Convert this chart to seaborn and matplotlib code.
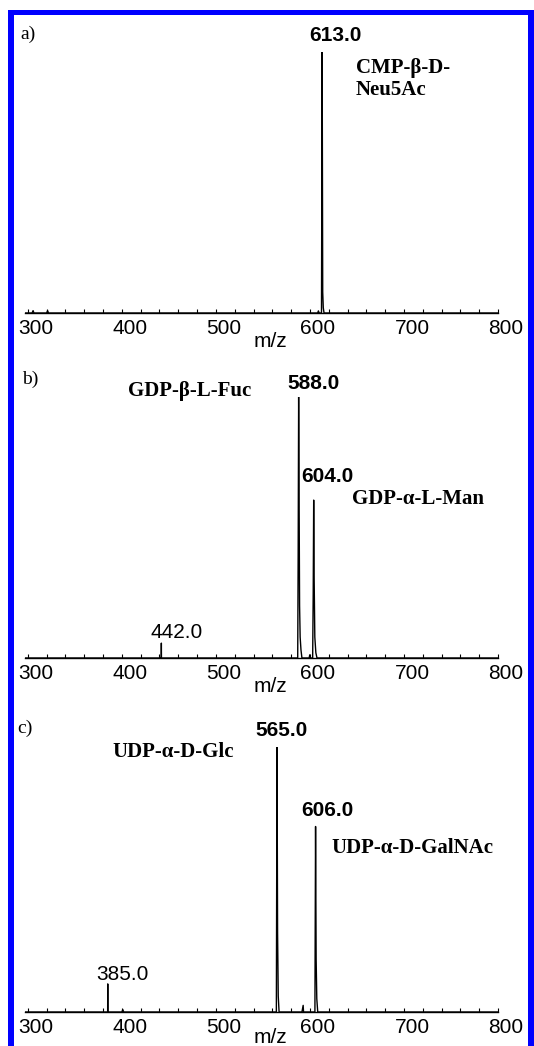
import matplotlib
matplotlib.use("Agg")
import matplotlib.pyplot as plt
import matplotlib.transforms as mtransforms
from matplotlib.ticker import MultipleLocator, FixedLocator
from matplotlib.patches import Rectangle
import seaborn as sns
import pandas as pd

# ---------------- data ----------------
# panel a: CMP-beta-D-Neu5Ac
mz_a = [297, 304.5, 305.6, 306.5, 320.0, 321.0, 322.0, 608.2, 609.0, 609.8,
        612.3, 613.0, 613.6, 614.2, 615.0, 800]
int_a = [0, 0, 0.9, 0, 0, 0.9, 0, 0, 0.8, 0,
         0, 100, 8, 2, 0, 0]

# panel b: GDP-beta-L-Fuc / GDP-alpha-L-Man
mz_b = [297, 441.9, 442.0, 442.1, 587.0, 587.5, 588.0, 588.5, 589.0, 589.6,
        590.5, 591.5, 599.2, 599.8, 600.4, 602.9, 603.5, 604.0, 604.5, 605.2,
        606.3, 607.5, 800]
int_b = [0, 0, 5.7, 0, 0, 40, 100, 60, 20, 8,
         3, 0, 0, 1.2, 0, 0, 25, 60.5, 30, 8,
         2, 0, 0]

# panel c: UDP-alpha-D-Glc / UDP-alpha-D-GalNAc
mz_c = [297, 384.9, 385.0, 385.1, 400.0, 401.0, 402.0, 564.3, 565.0, 565.6,
        566.3, 567.2, 591.5, 592.8, 593.2, 605.3, 606.0, 606.6, 607.3, 608.3, 800]
int_c = [0, 0, 10.6, 0, 0, 0.9, 0, 0, 100, 30,
         6, 0, 0, 2.5, 0, 0, 70, 20, 5, 0, 0]

tick_values = [300, 400, 500, 600, 700, 800]
tick_labels = ["300", "400", "500", "600", "700", "800"]

panel_letters = ["a)", "b)", "c)"]
peak_labels = [
    [("613.0", 627, 106.5, "bold")],
    [("588.0", 604, 105.2, "bold"), ("604.0", 619, 69.5, "bold"),
     ("442.0", 458.4, 9.8, "normal")],
    [("565.0", 569.4, 106.4, "bold"), ("606.0", 619, 76.2, "bold"),
     ("385.0", 400.6, 14.0, "normal")],
]
compound_labels = [
    [("CMP-β-D-", 649, 93.7, "left"), ("Neu5Ac", 649, 85.4, "left")],
    [("GDP-β-L-Fuc", 472, 102.3, "center"), ("GDP-α-L-Man", 715, 61.1, "center")],
    [("UDP-α-D-Glc", 455, 98.3, "center"), ("UDP-α-D-GalNAc", 708.7, 61.7, "center")],
]

# ---------------- style ----------------
sns.set_style("white")
plt.rcParams["font.family"] = ["Liberation Sans", "DejaVu Sans"]

W, H = 534, 1046
fig = plt.figure(figsize=(W / 100, H / 100), dpi=100)
fig.patch.set_facecolor("white")

# axes layout in pixels: (bottom_px, top_px)
layout = [(313, 52), (658, 397), (1012, 747)]
left_px, right_px = 25, 498
letter_pos = [(20, 34), (22, 379), (17, 728)]
xlabel_drop = [19, 19, 16]

spectra = [(mz_a, int_a), (mz_b, int_b), (mz_c, int_c)]
label_shift = mtransforms.ScaledTranslation(8 / 100, 0, fig.dpi_scale_trans)

for i, ((mz, inten), (bot, top)) in enumerate(zip(spectra, layout)):
    ax = fig.add_axes([left_px / W, 1 - bot / H, (right_px - left_px) / W, (bot - top) / H])
    ax.set_facecolor("none")
    df = pd.DataFrame({"mz": mz, "intensity": inten})
    sns.lineplot(data=df, x="mz", y="intensity", ax=ax, color="black",
                 linewidth=1.0, estimator=None, sort=False)
    ax.set_xlim(297, 800)
    ax.set_ylim(0, 100)
    for s in ["left", "right", "top"]:
        ax.spines[s].set_visible(False)
    ax.spines["bottom"].set_linewidth(1.0)
    ax.spines["bottom"].set_color("black")
    ax.set_yticks([])
    ax.set_ylabel("")
    ax.xaxis.set_major_locator(FixedLocator(tick_values))
    ax.set_xticklabels(tick_labels)
    ax.xaxis.set_minor_locator(MultipleLocator(20))
    ax.tick_params(axis="x", which="both", direction="in", length=3, width=0.8,
                   color="black", bottom=True, top=False)
    ax.tick_params(axis="x", which="major", labelsize=15, pad=4, labelcolor="black")
    for lab in ax.get_xticklabels():
        lab.set_transform(lab.get_transform() + label_shift)
    ax.set_xlabel("m/z", fontsize=15, color="black")
    hpx = bot - top
    ax.xaxis.set_label_coords((270 - left_px) / (right_px - left_px), -xlabel_drop[i] / hpx)

    for txt, x, y, wt in peak_labels[i]:
        ax.text(x, y, txt, ha="center", va="center", fontsize=15,
                fontweight=wt, color="black", family=["Liberation Sans", "DejaVu Sans"])
    for txt, x, y, ha in compound_labels[i]:
        ax.text(x, y, txt, ha=ha, va="center", fontsize=15, fontweight="bold",
                color="black", family=["Liberation Serif", "DejaVu Serif"])

    lx, ly = letter_pos[i]
    fig.text(lx / W, 1 - ly / H, panel_letters[i], ha="left", va="center", fontsize=14,
             color="black", family=["Liberation Serif", "DejaVu Serif"])

# blue frame
blue = "#0000ff"
fig.patches.append(Rectangle((8 / W, 0), 6 / W, (H - 10) / H, transform=fig.transFigure,
                             facecolor=blue, edgecolor="none", zorder=-1))
fig.patches.append(Rectangle((8 / W, 1 - 15 / H), (W - 8) / W, 5 / H, transform=fig.transFigure,
                             facecolor=blue, edgecolor="none", zorder=-1))
fig.patches.append(Rectangle((528 / W, 0), 6 / W, (H - 10) / H, transform=fig.transFigure,
                             facecolor=blue, edgecolor="none", zorder=-1))

fig.savefig("out.png", dpi=100, facecolor="white")
